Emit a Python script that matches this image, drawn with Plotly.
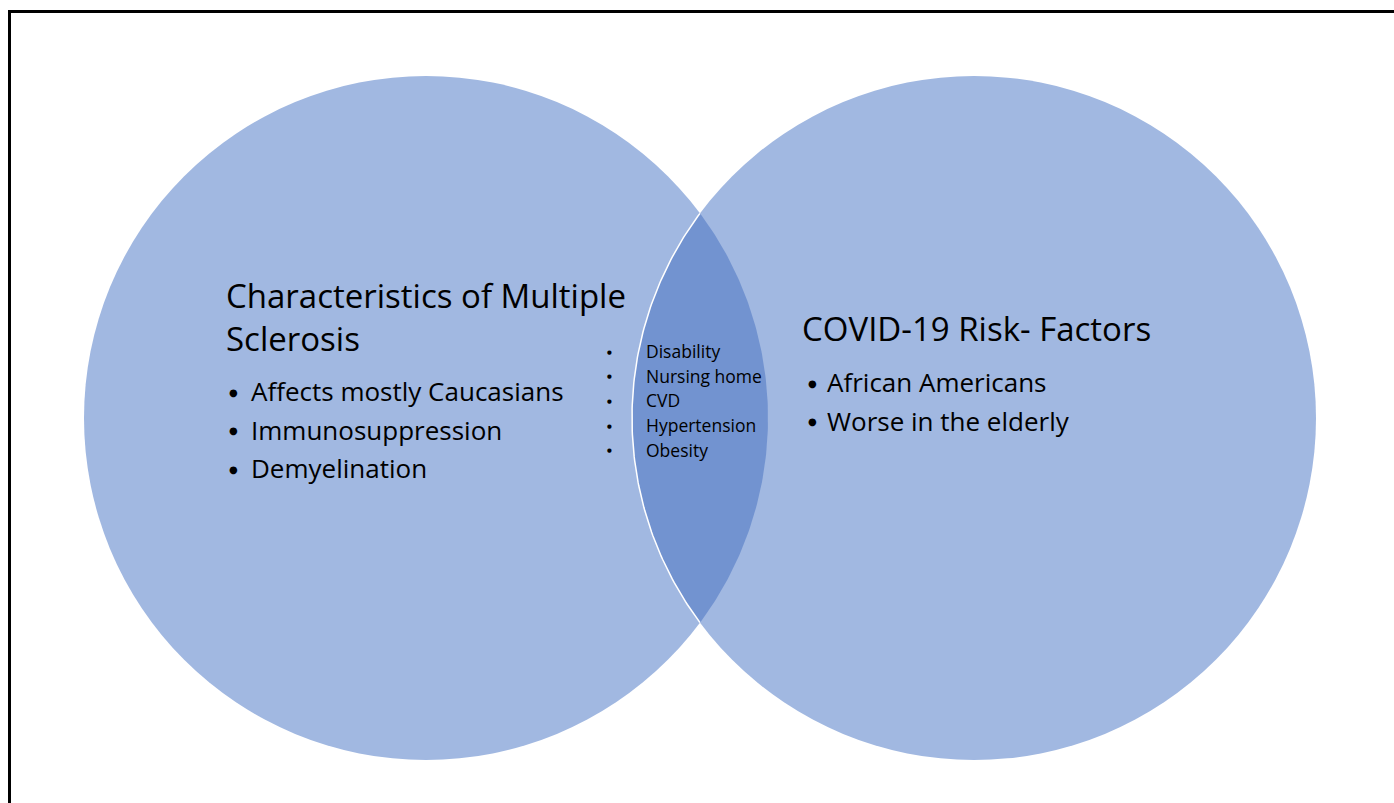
import numpy as np
import plotly.graph_objects as go

# ---- data ----
set_titles = ["Characteristics of Multiple<br>Sclerosis", "COVID-19 Risk- Factors"]
ms_items = ["Affects mostly Caucasians", "Immunosuppression", "Demyelination"]
covid_items = ["African Americans", "Worse in the elderly"]
shared_items = ["Disability", "Nursing home", "CVD", "Hypertension", "Obesity"]

# ---- geometry (pixels) ----
W, H = 1394, 803
LC = (426, 418); RC = (974, 418); R = 342
LIGHT = "rgb(161,184,225)"
DARK = "rgb(114,147,208)"
FONT = "Open Sans"

fig = go.Figure()

shapes = []
for cx, cy in (LC, RC):
    shapes.append(dict(type="circle", xref="x", yref="y", x0=cx - R, x1=cx + R,
                       y0=cy - R, y1=cy + R, fillcolor=LIGHT, line=dict(width=0),
                       layer="below"))

# lens (intersection)
d = RC[0] - LC[0]
half = np.sqrt(R**2 - (d / 2) ** 2)
a = np.arcsin(half / R)
t = np.linspace(-a, a, 120)
xr = LC[0] + R * np.cos(t)
yr = LC[1] + R * np.sin(t)
xl = RC[0] - R * np.cos(t[::-1])
yl = RC[1] + R * np.sin(t[::-1])
fig.add_trace(go.Scatter(x=np.concatenate([xr, xl, xr[:1]]), y=np.concatenate([yr, yl, yr[:1]]),
                         mode="lines", fill="toself", fillcolor=DARK,
                         line=dict(width=0), hoverinfo="skip", showlegend=False))
fig.add_trace(go.Scatter(x=xl, y=yl, mode="lines", line=dict(color="white", width=1.5),
                         hoverinfo="skip", showlegend=False))

# border (top and left visible)
shapes.append(dict(type="rect", xref="x", yref="y", x0=9.5, y0=11.5, x1=W + 40, y1=H + 40,
                   line=dict(color="black", width=3), fillcolor="rgba(0,0,0,0)"))

ann = []
def txt(x, y, s, size, family=FONT):
    ann.append(dict(x=x, y=y, xref="x", yref="y", text=s, showarrow=False,
                    xanchor="left", yanchor="middle",
                    font=dict(family=family, size=size, color="black"), align="left"))

# left set
txt(224, 317, set_titles[0], 33)
for i, s in enumerate(ms_items):
    y = 391 + i * 38.5
    txt(227, y + 1, "●", 10, "DejaVu Sans")
    txt(249, y, s, 26)

# right set
txt(800, 328, set_titles[1], 33)
for i, s in enumerate(covid_items):
    y = 382 + i * 38.5
    txt(806, y + 1, "●", 10, "DejaVu Sans")
    txt(825, y, s, 26)

# shared
for i, s in enumerate(shared_items):
    y = 351 + i * 24.7
    txt(605, y + 0.5, "●", 5.5, "DejaVu Sans")
    txt(644, y, s, 17.5)

fig.update_layout(width=W, height=H, margin=dict(l=0, r=0, t=0, b=0),
                  paper_bgcolor="white", plot_bgcolor="white",
                  shapes=shapes, annotations=ann, showlegend=False,
                  xaxis=dict(range=[0, W], visible=False, fixedrange=True),
                  yaxis=dict(range=[H, 0], visible=False, fixedrange=True))
fig.write_html("out.html", config={"displayModeBar": False},
               post_script="document.body.style.margin='0';document.body.style.overflow='hidden';")
